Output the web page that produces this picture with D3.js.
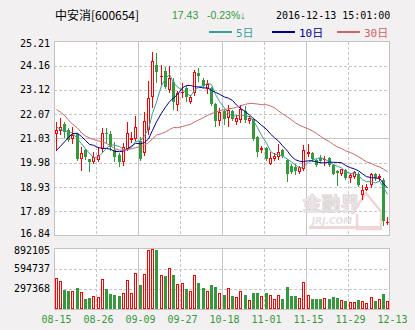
<!DOCTYPE html>
<html>
<head>
<meta charset="utf-8">
<script src="https://cdn.jsdelivr.net/npm/d3@7"></script>
<style>
  html, body { margin: 0; padding: 0; background: #f2f0f1; }
  svg { display: block; }
</style>
</head>
<body>
<svg id="chart" width="415" height="330"></svg>
<script>
// ---- data ----
const dates = [
  "08-15","08-16","08-17","08-18","08-19","08-22","08-23","08-24","08-25","08-26",
  "08-29","08-30","08-31","09-01","09-02","09-05","09-06","09-07","09-08","09-09",
  "09-12","09-13","09-14","09-19","09-20","09-21","09-22","09-23","09-26","09-27",
  "09-28","09-29","09-30","10-10","10-11","10-12","10-13","10-14","10-17","10-18",
  "10-19","10-20","10-21","10-24","10-25","10-26","10-27","10-28","10-31","11-01",
  "11-02","11-03","11-04","11-07","11-08","11-09","11-10","11-11","11-14","11-15",
  "11-16","11-17","11-18","11-21","11-22","11-23","11-24","11-25","11-28","11-29",
  "11-30","12-01","12-02","12-05","12-06","12-07","12-08","12-09","12-12","12-13"
];
const open = [
  21.20,21.36,21.64,21.38,20.99,21.21,20.12,20.55,20.13,19.99,
  20.09,20.59,21.27,21.24,20.52,20.33,20.02,20.59,20.98,21.01,
  20.92,20.38,21.38,22.83,24.19,23.66,23.94,23.11,23.47,22.47,
  22.97,23.19,22.61,22.97,23.86,23.55,23.16,23.21,22.51,21.77,
  22.21,21.89,22.21,21.74,21.82,22.22,21.77,21.86,21.10,20.52,
  20.62,19.94,20.13,20.23,20.55,20.09,19.84,19.80,19.58,19.73,
  20.35,20.40,20.09,20.20,20.12,20.19,19.87,19.61,19.51,19.68,
  19.34,19.37,19.51,18.57,18.82,19.01,19.51,19.30,19.25,17.40
];
const high = [
  21.74,21.93,21.74,21.46,21.50,21.27,20.66,20.59,20.16,20.45,
  20.66,21.46,21.46,21.36,20.88,20.40,20.81,21.72,21.31,21.99,
  21.10,22.18,23.50,24.74,24.70,24.19,24.12,24.15,23.62,23.08,
  23.40,23.29,22.90,23.98,24.08,23.62,23.55,23.26,22.54,22.32,
  22.25,22.47,22.25,22.03,22.49,22.42,21.99,21.92,21.13,20.69,
  20.66,20.45,20.38,20.78,20.59,20.12,19.91,19.94,19.86,20.74,
  20.78,20.45,20.16,20.30,20.26,20.23,19.91,19.66,19.73,19.73,
  19.54,19.61,19.57,19.01,19.08,19.54,19.54,19.51,19.30,17.64
];
const low = [
  20.55,21.21,21.10,20.92,20.81,20.09,19.68,20.13,19.63,19.97,
  20.06,20.45,20.88,20.52,20.06,19.83,19.87,20.55,20.88,20.95,
  20.09,20.30,21.24,22.39,23.47,23.33,23.19,23.04,22.29,22.26,
  22.83,22.65,22.54,22.90,23.52,23.23,22.97,22.47,21.57,21.60,
  21.67,21.57,21.82,21.67,21.74,21.74,21.70,20.95,20.26,20.45,
  20.09,19.91,20.09,20.14,20.23,19.19,19.54,19.51,19.54,19.68,
  20.26,20.06,19.83,20.02,19.90,19.83,19.48,19.01,19.44,19.29,
  19.15,19.32,18.99,18.43,18.79,18.93,19.22,19.22,17.30,17.35
];
const close = [
  21.38,21.50,21.31,20.98,21.17,20.12,20.42,20.23,19.99,20.23,
  20.33,21.27,21.24,20.64,20.23,19.99,20.66,21.28,21.05,21.50,
  20.13,21.77,22.79,24.37,23.91,23.73,23.26,23.65,22.61,22.97,
  23.04,22.80,22.80,23.88,23.72,23.29,23.36,22.51,21.77,22.18,
  21.86,22.25,21.86,21.89,22.28,21.82,21.93,20.99,20.45,20.63,
  20.13,20.20,20.26,20.45,20.26,19.51,19.58,19.62,19.80,20.52,
  20.45,20.13,19.87,20.06,20.16,19.87,19.51,19.55,19.70,19.34,
  19.47,19.58,19.04,18.79,18.93,19.48,19.30,19.41,17.47,17.43
];
const volume = [
  451000,407000,279000,265000,265000,309000,245000,147000,162000,191000,
  176000,436000,294000,221000,206000,191000,235000,422000,235000,524000,
  353000,515000,863000,892105,868000,500000,485000,598000,500000,368000,
  382000,294000,265000,500000,382000,309000,265000,353000,324000,235000,
  206000,309000,191000,176000,265000,206000,132000,235000,235000,191000,
  235000,206000,147000,206000,147000,324000,191000,191000,162000,397000,
  206000,147000,147000,147000,162000,147000,176000,162000,132000,118000,
  103000,103000,132000,118000,88000,176000,118000,147000,221000,118000
];
// moving-average values for the first bars, whose windows start before 08-15
const ma5Head  = [21.53,21.41,21.36,21.31];
const ma10Head = [20.52,20.69,20.88,21.07,21.24,21.25,21.11,20.94,20.77];
const ma30Head = [22.28,22.16,22.02,21.82,21.64,21.48,21.27,21.13,21.05,20.98,
                  20.92,20.88,20.81,20.71,20.59,20.52,20.52,20.55,20.58,20.63,
                  20.66,20.74,20.84,21.02,21.17,21.24,21.31,21.41,21.50];
const priceTicks  = [16.84,17.89,18.93,19.98,21.03,22.07,23.12,24.16,25.21];
const volumeTicks = [297368,594737,892105];
const dateTickIdx = [0,9,19,29,39,49,59,69,79];

const stockName = "中安消[600654]";
const lastPrice = "17.43";
const lastChange = "-0.23%↓";
const stamp = "2016-12-13 15:01:00";
const maSeries = [
  {label: "5日",  n: 5,  head: ma5Head,  color: "#35a09a"},
  {label: "10日", n: 10, head: ma10Head, color: "#00008f"},
  {label: "30日", n: 30, head: ma30Head, color: "#cf6464"}
];

// ---- layout ----
const RED = "#ff0000", GREEN = "#33993a", GRID = "#c6c6c6", BORDER = "#c2c2c2";
const L = 54, R = 390, T = 41.5, B = 235.5, VT = 248.5, VB = 309;
const mono = "'DejaVu Sans Mono', monospace";

const svg = d3.select("#chart");
const idx = d3.range(dates.length);

const x = d3.scaleBand().domain(idx).range([L, R]);
const y = d3.scaleLinear().domain([priceTicks[0], priceTicks[priceTicks.length - 1]]).range([B, T]);
const yv = d3.scaleLinear().domain([0, volumeTicks[volumeTicks.length - 1]]).range([VB, VT]);
const cx = i => Math.floor(x(i) + x.bandwidth() / 2);
// grid position k sits on the left edge of bar 10k (the right border for k = 8)
const gridX = k => k * 10 < dates.length ? x(k * 10) : R;

// panels
[[T, B], [VT, VB]].forEach(([t, b]) => {
  svg.append("rect").attr("x", L + 0.5).attr("y", t).attr("width", R - L - 1).attr("height", b - t)
    .attr("fill", "#fff").attr("stroke", BORDER).attr("shape-rendering", "crispEdges");
});

// vertical grid: every 10 bars, alternating dashed / solid
const gridG = svg.append("g").attr("shape-rendering", "crispEdges");
const vGrid = d3.range(1, 8).map(k => ({k, px: Math.round(gridX(k)) + 0.5}));
[[T, B], [VT, VB]].forEach(([t, b]) => {
  gridG.selectAll(null).data(vGrid).join("line")
    .attr("x1", d => d.px).attr("x2", d => d.px).attr("y1", t).attr("y2", b)
    .attr("stroke", GRID).attr("stroke-dasharray", d => d.k % 2 ? "3,2" : null);
});
// horizontal price grid (middle line solid)
gridG.selectAll(null).data(priceTicks.slice(1, -1)).join("line")
  .attr("x1", L).attr("x2", R).attr("y1", d => Math.round(y(d)) + 0.5).attr("y2", d => Math.round(y(d)) + 0.5)
  .attr("stroke", GRID).attr("stroke-dasharray", (d, i) => i === 3 ? null : "3,2");
// horizontal volume grid
gridG.selectAll(null).data(volumeTicks.slice(0, -1)).join("line")
  .attr("x1", L).attr("x2", R).attr("y1", d => Math.round(yv(d)) + 0.5).attr("y2", d => Math.round(yv(d)) + 0.5)
  .attr("stroke", GRID).attr("stroke-dasharray", "3,2");

// watermark
const wm = svg.append("g");
wm.append("path").attr("d", "M352,214 L366,193 L383,214 M357,214 L357,229 L381,229 L381,214")
  .attr("fill", "none").attr("stroke", "#f1d5d7").attr("stroke-width", 2.5);
wm.append("rect").attr("x", 309).attr("y", 226).attr("width", 72).attr("height", 3).attr("fill", "#f1d5d7");
wm.append("text").attr("x", 331).attr("y", 211).attr("text-anchor", "middle")
  .attr("font-family", "'Noto Sans CJK SC'").attr("font-weight", 700).attr("font-size", 19)
  .attr("fill", "#efeaeb").attr("stroke", "#dcd5d6").attr("stroke-width", 0.8).text("金融界");
wm.append("text").attr("x", 332).attr("y", 223.5).attr("text-anchor", "middle")
  .attr("font-family", "'DejaVu Sans'").attr("font-weight", 700).attr("font-style", "italic").attr("font-size", 9)
  .attr("fill", "#e6e0e1").text("JRJ.COM");

// candles: red hollow when close >= open, green filled otherwise
const cg = svg.append("g").attr("shape-rendering", "crispEdges");
const up = i => close[i] >= open[i];
cg.selectAll("line.wick").data(idx).join("line").attr("class", "wick")
  .attr("x1", i => cx(i) + 0.5).attr("x2", i => cx(i) + 0.5)
  .attr("y1", i => Math.round(y(high[i]))).attr("y2", i => Math.round(y(low[i])) + 1)
  .attr("stroke", i => up(i) ? RED : GREEN);
idx.forEach(i => {
  const t = Math.round(y(Math.max(open[i], close[i])));
  const b = Math.round(y(Math.min(open[i], close[i])));
  const c = cx(i);
  if (b - t < 2) {
    cg.append("rect").attr("x", c - 1).attr("y", t).attr("width", 3).attr("height", Math.max(b - t, 1))
      .attr("fill", up(i) ? RED : GREEN);
  } else if (up(i)) {
    cg.append("rect").attr("x", c - 0.5).attr("y", t + 0.5).attr("width", 2).attr("height", b - t - 1)
      .attr("fill", "#fff").attr("stroke", RED);
  } else {
    cg.append("rect").attr("x", c - 1).attr("y", t).attr("width", 3).attr("height", b - t)
      .attr("fill", GREEN);
  }
});

// moving averages of the closes
maSeries.forEach(s => {
  const series = idx.map(i => i - s.n + 1 < 0 ? s.head[i] : d3.mean(close.slice(i - s.n + 1, i + 1)));
  svg.append("path").datum(series)
    .attr("d", d3.line().x((d, i) => cx(i) + 0.5).y(d => y(d)))
    .attr("fill", "none").attr("stroke", s.color).attr("stroke-width", 1);
});

// volume bars
const vg = svg.append("g").attr("shape-rendering", "crispEdges");
idx.forEach(i => {
  const t = Math.round(yv(volume[i]));
  const c = cx(i);
  if (up(i)) {
    vg.append("rect").attr("x", c - 0.5).attr("y", t + 0.5).attr("width", 2).attr("height", VB - t - 1)
      .attr("fill", "#fff").attr("stroke", RED);
  } else {
    vg.append("rect").attr("x", c - 1).attr("y", t).attr("width", 3).attr("height", VB - t).attr("fill", GREEN);
  }
});

// axis labels
const lab = svg.append("g").attr("font-family", mono).attr("font-size", 10).attr("fill", "#000");
lab.selectAll(null).data(priceTicks).join("text")
  .attr("x", 50).attr("text-anchor", "end")
  .attr("y", (d, i) => y(d) + 3.5 + (i === 0 ? -2.5 : i === priceTicks.length - 1 ? 2 : 0))
  .text(d => d.toFixed(2));
lab.selectAll(null).data(volumeTicks).join("text")
  .attr("x", 50).attr("text-anchor", "end")
  .attr("y", (d, i) => yv(d) + 3.5 + (i === volumeTicks.length - 1 ? 1.5 : 0))
  .text(d => d);
svg.append("g").attr("font-family", mono).attr("font-size", 10).attr("fill", GREEN)
  .selectAll(null).data(dateTickIdx).join("text")
  .attr("x", (d, k) => Math.round(gridX(k)) + 2.5).attr("y", 323).attr("text-anchor", "middle")
  .text(d => dates[d]);

// header
svg.append("text").attr("x", 55).attr("y", 19.5).attr("font-family", "'Noto Sans CJK SC'")
  .attr("font-size", 12).attr("fill", "#000").text(stockName);
svg.append("text").attr("x", 172).attr("y", 19).attr("font-family", "'Liberation Sans'")
  .attr("font-size", 10.5).attr("fill", GREEN).text(lastPrice);
svg.append("text").attr("x", 207).attr("y", 19).attr("font-family", "'Liberation Sans', 'DejaVu Sans'")
  .attr("font-size", 10.5).attr("fill", GREEN).text(lastChange);
svg.append("text").attr("x", 276).attr("y", 19).attr("font-family", mono)
  .attr("font-size", 10).attr("fill", "#000").text(stamp);

// legend
const legX = [209, 272, 337];
const lg = svg.append("g").selectAll("g").data(maSeries).join("g")
  .attr("transform", (d, i) => `translate(${legX[i]},0)`);
lg.append("line").attr("x1", 0).attr("x2", 23).attr("y1", 32).attr("y2", 32)
  .attr("stroke", d => d.color).attr("stroke-width", 2);
lg.append("text").attr("x", 27).attr("y", 36.5)
  .attr("font-family", "'DejaVu Sans Mono', 'Noto Sans CJK SC'").attr("font-size", 11)
  .attr("fill", d => d.color).text(d => d.label);
</script>
</body>
</html>
